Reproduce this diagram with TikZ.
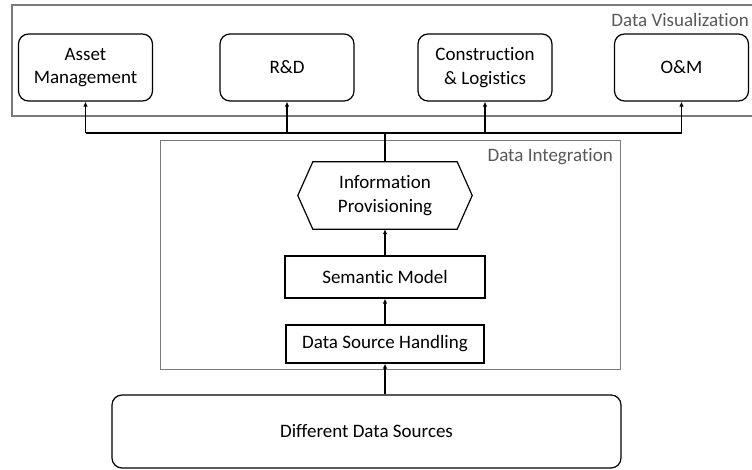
\documentclass[tikz,border=0pt]{standalone}
\usepackage{fontspec}
\setmainfont{Carlito}[Ligatures=NoCommon]
\usetikzlibrary{arrows.meta,calc}
\definecolor{framegray}{HTML}{7A7A7A}
\definecolor{labelgray}{HTML}{595959}
\begin{document}
\begin{tikzpicture}[x=1pt,y=-1pt,
  every node/.style={font=\fontsize{19}{23.5}\selectfont, align=center, inner sep=0pt},
  appbox/.style={draw=black, line width=1.2pt, rounded corners=10pt, minimum width=134pt, minimum height=67pt},
  flatbox/.style={draw=black, line width=1.2pt},
  frameA/.style={draw=framegray, line width=2pt},
  frameB/.style={draw=framegray, line width=1pt},
  framelabel/.style={text=labelgray, anchor=base east},
  conn/.style={line width=1.8pt, draw=black},
  arr/.style={conn, -{Latex[length=5pt,width=4.5pt]}}
]
\useasboundingbox (0,0) rectangle (752,469);

% frames
\draw[frameA] (12,5) rectangle (760,116);
\node[framelabel] (dvlabel) at (749,26) {Data Visualization};
\draw[frameB] (160,140) rectangle (620,369);
\node[framelabel] (dilabel) at (613,161) {Data Integration};

% application boxes
\node[appbox] (asset) at (85.5,67.5) {Asset\\Management};
\node[appbox] (rd) at (287,67.5) {R\&D};
\node[appbox] (cons) at (485,67.5) {Construction\\\& Logistics};
\node[appbox] (om) at (681.5,67.5) {O\&M};

% integration
\node[minimum width=174pt, minimum height=67pt] (hex) at (385,195.5) {Information\\Provisioning};
\draw[flatbox] (hex.west) -- ([xshift=15pt]hex.north west) -- ([xshift=-15pt]hex.north east)
  -- (hex.east) -- ([xshift=-15pt]hex.south east) -- ([xshift=15pt]hex.south west) -- cycle;
\node[flatbox, minimum width=200pt, minimum height=42pt] (sem) at (385,277) {Semantic Model};
\node[flatbox, minimum width=198pt, minimum height=38pt] (dsh) at (385,344) {Data Source Handling};

% sources
\node[appbox, minimum width=509pt, minimum height=73pt] (dds) at (366.5,431.5) {Different Data Sources};

% connectors
\coordinate (bus) at (385,133);
\draw[arr] (dsh.south |- dds.north) -- (dsh.south);
\draw[arr] (dsh.north) -- (sem.south);
\draw[arr] (sem.north) -- (hex.south);
\draw[conn] (hex.north) -- (bus);
\draw[conn] (asset.south |- bus) -- (om.south |- bus);
\draw[arr] (asset.south |- bus) -- (asset.south);
\draw[arr] (rd.south |- bus) -- (rd.south);
\draw[arr] (cons.south |- bus) -- (cons.south);
\draw[arr] (om.south |- bus) -- (om.south);
\end{tikzpicture}
\end{document}
